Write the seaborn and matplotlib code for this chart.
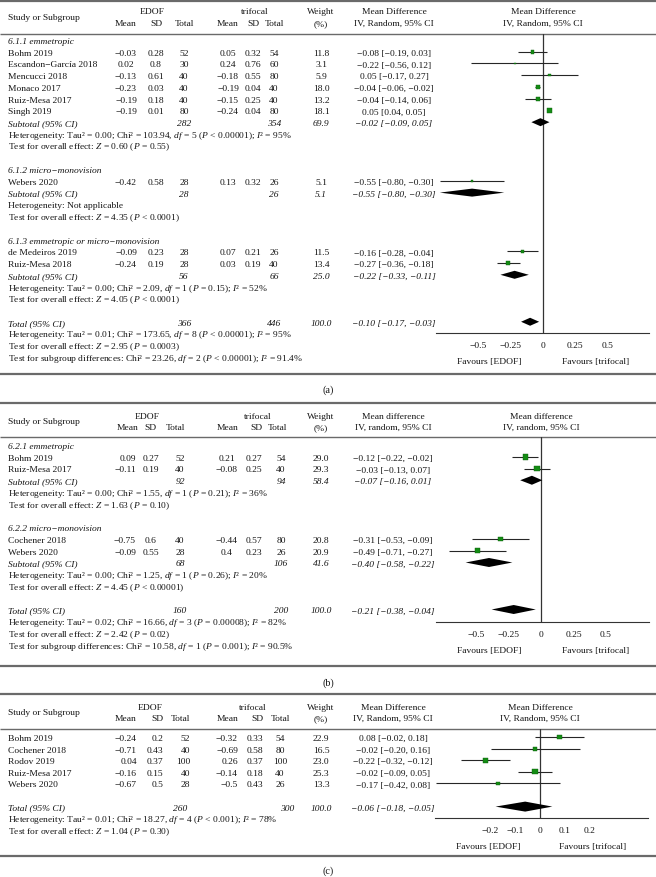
import numpy as np
import pandas as pd
import matplotlib
matplotlib.use("Agg")
import matplotlib.pyplot as plt
import seaborn as sns

# ---------------- data ----------------
# Panel (a)
a_groups = ["6.1.1 emmetropic", "6.1.2 micro\u2212monovision", "6.1.3 emmetropic or micro\u2212monovision"]
a_study = ["Bohm 2019", "Escandon\u2212Garc\u00eda 2018", "Mencucci 2018", "Monaco 2017", "Ruiz-Mesa 2017",
           "Singh 2019", "Webers 2020", "de Medeiros 2019", "Ruiz-Mesa 2018"]
a_gid = [0, 0, 0, 0, 0, 0, 1, 2, 2]
a_m1 = [-0.03, 0.02, -0.13, -0.23, -0.19, -0.19, -0.42, -0.09, -0.24]
a_sd1 = [0.28, 0.8, 0.61, 0.03, 0.18, 0.01, 0.58, 0.23, 0.19]
a_n1 = [52, 30, 40, 40, 40, 80, 28, 28, 28]
a_m2 = [0.05, 0.24, -0.18, -0.19, -0.15, -0.24, 0.13, 0.07, 0.03]
a_sd2 = [0.32, 0.76, 0.55, 0.04, 0.25, 0.04, 0.32, 0.21, 0.19]
a_n2 = [54, 60, 80, 40, 40, 80, 26, 26, 40]
a_w = [11.8, 3.1, 5.9, 18.0, 13.2, 18.1, 5.1, 11.5, 13.4]
a_md = [-0.08, -0.22, 0.05, -0.04, -0.04, 0.05, -0.55, -0.16, -0.27]
a_lo = [-0.19, -0.56, -0.17, -0.06, -0.14, 0.04, -0.80, -0.28, -0.36]
a_hi = [0.03, 0.12, 0.27, -0.02, 0.06, 0.05, -0.30, -0.04, -0.18]
a_sub_n1 = [282, 28, 56]
a_sub_n2 = [354, 26, 66]
a_sub_w = [69.9, 5.1, 25.0]
a_sub_md = [-0.02, -0.55, -0.22]
a_sub_lo = [-0.09, -0.80, -0.33]
a_sub_hi = [0.05, -0.30, -0.11]
a_sub_het = [("0.00", "103.94", "5", "< 0.00001", "95"), None, ("0.00", "2.09", "1", "= 0.15", "52")]
a_sub_z = [("0.60", "= 0.55"), ("4.35", "< 0.0001"), ("4.05", "< 0.0001")]
a_tot = dict(n1=366, n2=446, w=100.0, md=-0.10, lo=-0.17, hi=-0.03)
a_tot_het = ("0.01", "173.65", "8", "< 0.00001", "95")
a_tot_z = ("2.95", "= 0.0003")
a_subdiff = ("23.26", "2", "< 0.00001", "91.4")

# Panel (b)
b_groups = ["6.2.1 emmetropic", "6.2.2 micro\u2212monovision"]
b_study = ["Bohm 2019", "Ruiz-Mesa 2017", "Cochener 2018", "Webers 2020"]
b_gid = [0, 0, 1, 1]
b_m1 = [0.09, -0.11, -0.75, -0.09]
b_sd1 = [0.27, 0.19, 0.6, 0.55]
b_n1 = [52, 40, 40, 28]
b_m2 = [0.21, -0.08, -0.44, 0.4]
b_sd2 = [0.27, 0.25, 0.57, 0.23]
b_n2 = [54, 40, 80, 26]
b_w = [29.0, 29.3, 20.8, 20.9]
b_md = [-0.12, -0.03, -0.31, -0.49]
b_lo = [-0.22, -0.13, -0.53, -0.71]
b_hi = [-0.02, 0.07, -0.09, -0.27]
b_sub_n1 = [92, 68]
b_sub_n2 = [94, 106]
b_sub_w = [58.4, 41.6]
b_sub_md = [-0.07, -0.40]
b_sub_lo = [-0.16, -0.58]
b_sub_hi = [0.01, -0.22]
b_sub_het = [("0.00", "1.55", "1", "= 0.21", "36"), ("0.00", "1.25", "1", "= 0.26", "20")]
b_sub_z = [("1.63", "= 0.10"), ("4.45", "< 0.00001")]
b_tot = dict(n1=160, n2=200, w=100.0, md=-0.21, lo=-0.38, hi=-0.04)
b_tot_het = ("0.02", "16.66", "3", "= 0.00008", "82")
b_tot_z = ("2.42", "= 0.02")
b_subdiff = ("10.58", "1", "= 0.001", "90.5")

# Panel (c)
c_study = ["Bohm 2019", "Cochener 2018", "Rodov 2019", "Ruiz-Mesa 2017", "Webers 2020"]
c_m1 = [-0.24, -0.71, 0.04, -0.16, -0.67]
c_sd1 = [0.2, 0.43, 0.37, 0.15, 0.5]
c_n1 = [52, 40, 100, 40, 28]
c_m2 = [-0.32, -0.69, 0.26, -0.14, -0.5]
c_sd2 = [0.33, 0.58, 0.37, 0.18, 0.43]
c_n2 = [54, 80, 100, 40, 26]
c_w = [22.9, 16.5, 23.0, 25.3, 13.3]
c_md = [0.08, -0.02, -0.22, -0.02, -0.17]
c_lo = [-0.02, -0.20, -0.32, -0.09, -0.42]
c_hi = [0.18, 0.16, -0.12, 0.05, 0.08]
c_tot = dict(n1=260, n2=300, w=100.0, md=-0.06, lo=-0.18, hi=0.05)
c_tot_label = "\u22120.06 [\u22120.18, \u22120.05]"
c_tot_het = ("0.01", "18.27", "4", "< 0.001", "78")
c_tot_z = ("1.04", "= 0.30")

ticks_ab = [-0.5, -0.25, 0, 0.25, 0.5]
ticks_c = [-0.2, -0.1, 0, 0.1, 0.2]

# ---------------- style ----------------
sns.set_theme(style="white")
plt.rcParams["font.family"] = ["Liberation Serif", "DejaVu Serif"]
plt.rcParams["mathtext.fontset"] = "custom"
plt.rcParams["mathtext.rm"] = "Liberation Serif"
plt.rcParams["mathtext.it"] = "Liberation Serif:italic"
FS = 6.8
TXT = "#151515"
GREEN = "#148c14"

W, H = 656, 878
fig = plt.figure(figsize=(W / 100, H / 100), dpi=100)
fig.patch.set_facecolor("white")
bg = fig.add_axes([0, 0, 1, 1])
bg.set_xlim(0, W)
bg.set_ylim(H, 0)
bg.axis("off")


def fmt(v, dec=None):
    s = f"{v:.{dec}f}" if dec is not None else f"{v:g}"
    return s.replace("-", "\u2212")


def ci_text(md, lo, hi):
    return f"{fmt(md, 2)} [{fmt(lo, 2)}, {fmt(hi, 2)}]"


def het_text(h):
    if h is None:
        return "Heterogeneity: Not applicable"
    tau, chi, df, p, i2 = h
    return (f"Heterogeneity: Tau\u00b2 = {tau}; Chi\u00b2 = {chi}, $df$ = {df} ($P$ {p}); "
            f"$I$\u00b2 = {i2}%")


def z_text(z):
    return f"Test for overall effect: $Z$ = {z[0]} ($P$ {z[1]})"


def sub_text(s):
    return f"Test for subgroup differences: Chi\u00b2 = {s[0]}, $df$ = {s[1]} ($P$ {s[2]}); $I$\u00b2 = {s[3]}%"


def T(x, y, s, ha="left", style="normal", size=FS):
    bg.text(x, y + 3, s, ha=ha, va="baseline", fontsize=size, style=style, color=TXT)


def hline(y, lw):
    bg.plot([0, W], [y, y], color="#6a6a6a", lw=lw, solid_capstyle="butt")


def draw_panel(P):
    c = P["cols"]
    hline(P["top"], 1.6)
    hline(P["hline"], 1.0)
    hline(P["bottom"], 1.6)
    T(8, P["hy"], "Study or Subgroup")
    T(c["e"], P["h1"], "EDOF", ha="center")
    T(c["t"], P["h1"], "trifocal", ha="center")
    for key, lab in [("hm1", "Mean"), ("hsd1", "SD"), ("hn1", "Total"),
                     ("hm2", "Mean"), ("hsd2", "SD"), ("hn2", "Total")]:
        T(c[key], P["h2"], lab, ha="center")
    T(c["w"], P["h1"], "Weight", ha="center")
    T(c["w"], P["h2"], "(%)", ha="center")
    T(c["md"], P["h1"], P["mdh1"], ha="center")
    T(c["md"], P["h2"], P["mdh2"], ha="center")
    T(P["zx"], P["h1"], P["mdh1"], ha="center")
    T(P["zx"], P["h2"], P["mdh2"], ha="center")
    T(328, P["lab_y"], P["label"], ha="center", size=FS + 0.6)

    # forest axes
    x0, x1, zx, s = P["ax_x0"], P["ax_x1"], P["zx"], P["scale"]
    y0, y1 = P["hline"], P["axis_y"]
    ax = fig.add_axes([x0 / W, 1 - y1 / H, (x1 - x0) / W, (y1 - y0) / H])
    ax.patch.set_alpha(0)

    ry = lambda i: P["row0"] + i * P["dy"]
    pts = []
    al = P["align"]
    for kind, i, d in P["rows"]:
        y = ry(i)
        if kind == "group":
            T(8, y, d, style="italic")
        elif kind == "study":
            T(8, y, d["name"])
            for key in ["m1", "sd1", "n1", "m2", "sd2", "n2"]:
                T(c[key], y, fmt(d[key]), ha=al.get(key, "center"))
            T(c["w"], y, fmt(d["w"], 1), ha="center")
            T(c["md"], y, ci_text(d["md"], d["lo"], d["hi"]), ha="center")
            ax.hlines(y, d["lo"], d["hi"], color="#262626", lw=0.8, zorder=2)
            pts.append(dict(x=d["md"], y=y, w=d["w"]))
        elif kind in ("sub", "total"):
            T(8, y, "Subtotal (95% CI)" if kind == "sub" else "Total (95% CI)", style="italic")
            T(c["sn1"], y, str(d["n1"]), ha="center", style="italic")
            T(c["sn2"], y, str(d["n2"]), ha="center", style="italic")
            T(c["w"], y, fmt(d["w"], 1), ha="center", style="italic")
            T(c["md"], y, d.get("label", ci_text(d["md"], d["lo"], d["hi"])), ha="center", style="italic")
            h = P["dh"]
            ax.fill([d["lo"], d["md"], d["hi"], d["md"]], [y, y - h, y, y + h],
                    color="black", lw=0, zorder=3)
        elif kind == "text":
            T(8, y, d)
    df = pd.DataFrame(pts)
    sns.scatterplot(data=df, x="x", y="y", size="w", sizes=(0, 0.55 * 100), size_norm=(0, 100),
                    marker="s", color=GREEN, edgecolor="#0d5e0d", linewidth=0.3,
                    legend=False, ax=ax, zorder=4)
    ax.set_xlabel("")
    ax.set_ylabel("")
    ax.set_ylim(y1, y0)
    ax.set_xlim((x0 - zx) / s, (x1 - zx) / s)
    for sp in ["top", "left", "right"]:
        ax.spines[sp].set_visible(False)
    ax.spines["bottom"].set_color("#333333")
    ax.spines["bottom"].set_linewidth(0.8)
    ax.set_yticks([])
    ax.set_xticks(P["ticks"])
    ax.set_xticklabels([fmt(t) if t != 0 else "0" for t in P["ticks"]], fontsize=FS, color=TXT)
    ax.tick_params(axis="x", length=0, pad=5.5)
    ax.axvline(0, color="#333333", lw=0.9, zorder=1)
    T(P["fav_l"], P["fav_y"], "Favours [EDOF]", ha="center")
    T(P["fav_r"], P["fav_y"], "Favours [trifocal]", ha="center")


def build_rows(study, gid, cols_lists, groups, sub, het, zt, tot, tot_het, tot_z, subdiff, tot_label=None):
    rows = []
    i = 0
    m1, sd1, n1, m2, sd2, n2, w, md, lo, hi = cols_lists
    ngroups = len(groups) if groups else 1
    for g in range(ngroups):
        if groups:
            rows.append(("group", i, groups[g])); i += 1
        for k in range(len(study)):
            if gid[k] == g:
                rows.append(("study", i, dict(name=study[k], m1=m1[k], sd1=sd1[k], n1=n1[k], m2=m2[k],
                                              sd2=sd2[k], n2=n2[k], w=w[k], md=md[k], lo=lo[k], hi=hi[k])))
                i += 1
        if sub:
            rows.append(("sub", i, dict(n1=sub[0][g], n2=sub[1][g], w=sub[2][g], md=sub[3][g],
                                        lo=sub[4][g], hi=sub[5][g]))); i += 1
            rows.append(("text", i, het_text(het[g]))); i += 1
            rows.append(("text", i, z_text(zt[g]))); i += 1
        i += 1
    t = dict(tot)
    if tot_label:
        t["label"] = tot_label
    rows.append(("total", i, t)); i += 1
    rows.append(("text", i, het_text(tot_het))); i += 1
    rows.append(("text", i, z_text(tot_z))); i += 1
    if subdiff:
        rows.append(("text", i, sub_text(subdiff))); i += 1
    return rows


rows_a = build_rows(a_study, a_gid, [a_m1, a_sd1, a_n1, a_m2, a_sd2, a_n2, a_w, a_md, a_lo, a_hi],
                    a_groups, [a_sub_n1, a_sub_n2, a_sub_w, a_sub_md, a_sub_lo, a_sub_hi],
                    a_sub_het, a_sub_z, a_tot, a_tot_het, a_tot_z, a_subdiff)
rows_b = build_rows(b_study, b_gid, [b_m1, b_sd1, b_n1, b_m2, b_sd2, b_n2, b_w, b_md, b_lo, b_hi],
                    b_groups, [b_sub_n1, b_sub_n2, b_sub_w, b_sub_md, b_sub_lo, b_sub_hi],
                    b_sub_het, b_sub_z, b_tot, b_tot_het, b_tot_z, b_subdiff)
rows_c = build_rows(c_study, [0] * len(c_study), [c_m1, c_sd1, c_n1, c_m2, c_sd2, c_n2, c_w, c_md, c_lo, c_hi],
                    None, None, None, None, c_tot, c_tot_het, c_tot_z, None, tot_label=c_tot_label)

panel_a = dict(top=2, h1=11, h2=23, hy=17, hline=35, bottom=375, label="(a)", lab_y=390,
               row0=41, dy=11.74, dh=4.0, axis_y=334, ax_x0=436, ax_x1=649, zx=543, scale=129,
               ticks=ticks_ab, fav_y=361, fav_l=489, fav_r=596,
               mdh1="Mean Difference", mdh2="IV, Random, 95% CI", rows=rows_a, align={},
               cols=dict(e=152, t=255, hm1=126, hsd1=156, hn1=184, hm2=228, hsd2=253, hn2=274,
                         m1=126, sd1=156, n1=184, m2=228, sd2=253, n2=274, sn1=184, sn2=274,
                         w=321, md=394))
panel_b = dict(top=404, h1=416, h2=427, hy=421, hline=438, bottom=667, label="(b)", lab_y=683,
               row0=446, dy=11.75, dh=4.5, axis_y=623, ax_x0=436, ax_x1=649, zx=541, scale=130,
               ticks=ticks_ab, fav_y=650, fav_l=489, fav_r=596,
               mdh1="Mean difference", mdh2="IV, random, 95% CI", rows=rows_b,
               align=dict(m1="right"),
               cols=dict(e=147, t=258, hm1=128, hsd1=150, hn1=175, hm2=228, hsd2=256, hn2=277,
                         m1=136, sd1=151, n1=180, m2=227, sd2=254, n2=281, sn1=180, sn2=281,
                         w=321, md=393))
panel_c = dict(top=695, h1=707, h2=718, hy=712, hline=730, bottom=857, label="(c)", lab_y=871,
               row0=738, dy=11.6, dh=5.0, axis_y=819, ax_x0=435, ax_x1=648, zx=540, scale=247,
               ticks=ticks_c, fav_y=846, fav_l=488, fav_r=593,
               mdh1="Mean Difference", mdh2="IV, Random, 95% CI", rows=rows_c,
               align=dict(m1="right", sd1="right", n1="right", m2="right", sd2="right"),
               cols=dict(e=150, t=253, hm1=126, hsd1=157, hn1=180, hm2=228, hsd2=257, hn2=280,
                         m1=137, sd1=163, n1=190, m2=238, sd2=263, n2=280, sn1=180, sn2=287,
                         w=321, md=393))

for P in (panel_a, panel_b, panel_c):
    draw_panel(P)

fig.savefig("out.png", dpi=100, facecolor="white")
